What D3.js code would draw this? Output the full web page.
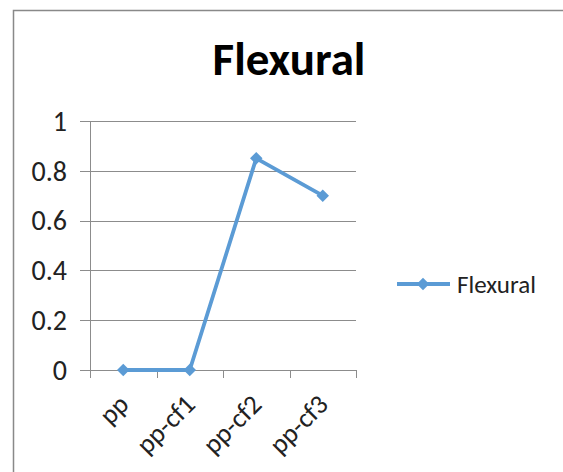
<!DOCTYPE html>
<html><head><meta charset="utf-8">
<script src="https://cdn.jsdelivr.net/npm/d3@7"></script>
<style>body{margin:0;background:#fff;}svg{display:block;}</style>
</head><body>
<script>
const categories = ["pp", "pp-cf1", "pp-cf2", "pp-cf3"];
const seriesName = "Flexural";
const values = [0, 0, 0.85, 0.70];
const yTicks = [0, 0.2, 0.4, 0.6, 0.8, 1];
const title = "Flexural";

const W = 563, H = 472;
const font = "Carlito, Calibri, 'Liberation Sans', Arial, sans-serif";
const svg = d3.select("body").append("svg").attr("width", W).attr("height", H);
svg.append("rect").attr("width", W).attr("height", H).attr("fill", "#fff");
// chart frame
svg.append("path").attr("d", `M13.5,${H}V10.5H${W}`).attr("fill", "none").attr("stroke", "#898989").attr("stroke-width", 1.5);

const x = d3.scaleBand().domain(categories).range([90, 356]).padding(0);
const y = d3.scaleLinear().domain([0, 1]).range([370, 121]);

const g = svg.append("g");
// gridlines
g.selectAll("line.grid").data(yTicks).join("line")
  .attr("x1", 80).attr("x2", 356)
  .attr("y1", d => Math.round(y(d)) + 0.5).attr("y2", d => Math.round(y(d)) + 0.5)
  .attr("stroke", "#8c8c8c").attr("stroke-width", 1);
// y axis line
g.append("line").attr("x1", 90.5).attr("x2", 90.5).attr("y1", y(1)).attr("y2", y(0))
  .attr("stroke", "#8c8c8c");
// x ticks
const xt = categories.map(c => x(c)).concat([x.range()[1]]);
g.selectAll("line.xt").data(xt).join("line")
  .attr("x1", d => Math.round(d) + 0.5).attr("x2", d => Math.round(d) + 0.5)
  .attr("y1", 370).attr("y2", 378).attr("stroke", "#8c8c8c");

// y labels
g.selectAll("text.yl").data(yTicks).join("text")
  .attr("x", 67).attr("y", d => y(d)).attr("dy", "0.35em")
  .attr("text-anchor", "end").attr("font-family", font).attr("font-size", 28)
  .attr("fill", "#222").text(d => d3.format("")(d));

// x labels rotated
g.selectAll("text.xl").data(categories).join("text")
  .attr("transform", d => `translate(${x(d) + x.bandwidth()/2 + 7},${406}) rotate(-45)`)
  .attr("text-anchor", "end").attr("font-family", font).attr("font-size", 27)
  .attr("fill", "#222").text(d => d);

// line
const color = "#5B9BD5";
const line = d3.line().x((d, i) => x(categories[i]) + x.bandwidth()/2).y(d => y(d));
g.append("path").datum(values).attr("d", line).attr("fill", "none")
  .attr("stroke", color).attr("stroke-width", 3.8).attr("stroke-linejoin", "round");
const diamond = d3.symbol().type(d3.symbolDiamond2).size(100);
g.selectAll("path.pt").data(values).join("path")
  .attr("d", diamond)
  .attr("transform", (d, i) => `translate(${x(categories[i]) + x.bandwidth()/2},${y(d)})`)
  .attr("fill", color);

// title
svg.append("text").attr("x", 289).attr("y", 75).attr("text-anchor", "middle")
  .attr("font-family", font).attr("font-weight", "bold").attr("font-size", 47)
  .attr("fill", "#000").text(title);

// legend
const lg = svg.append("g");
lg.append("line").attr("x1", 397).attr("x2", 450).attr("y1", 284).attr("y2", 284)
  .attr("stroke", color).attr("stroke-width", 3.8);
lg.append("path").attr("d", diamond).attr("transform", "translate(423,284)").attr("fill", color);
lg.append("text").attr("x", 457).attr("y", 284).attr("dy", "0.35em")
  .attr("font-family", font).attr("font-size", 25).attr("fill", "#222").text(seriesName);
</script>
</body></html>
